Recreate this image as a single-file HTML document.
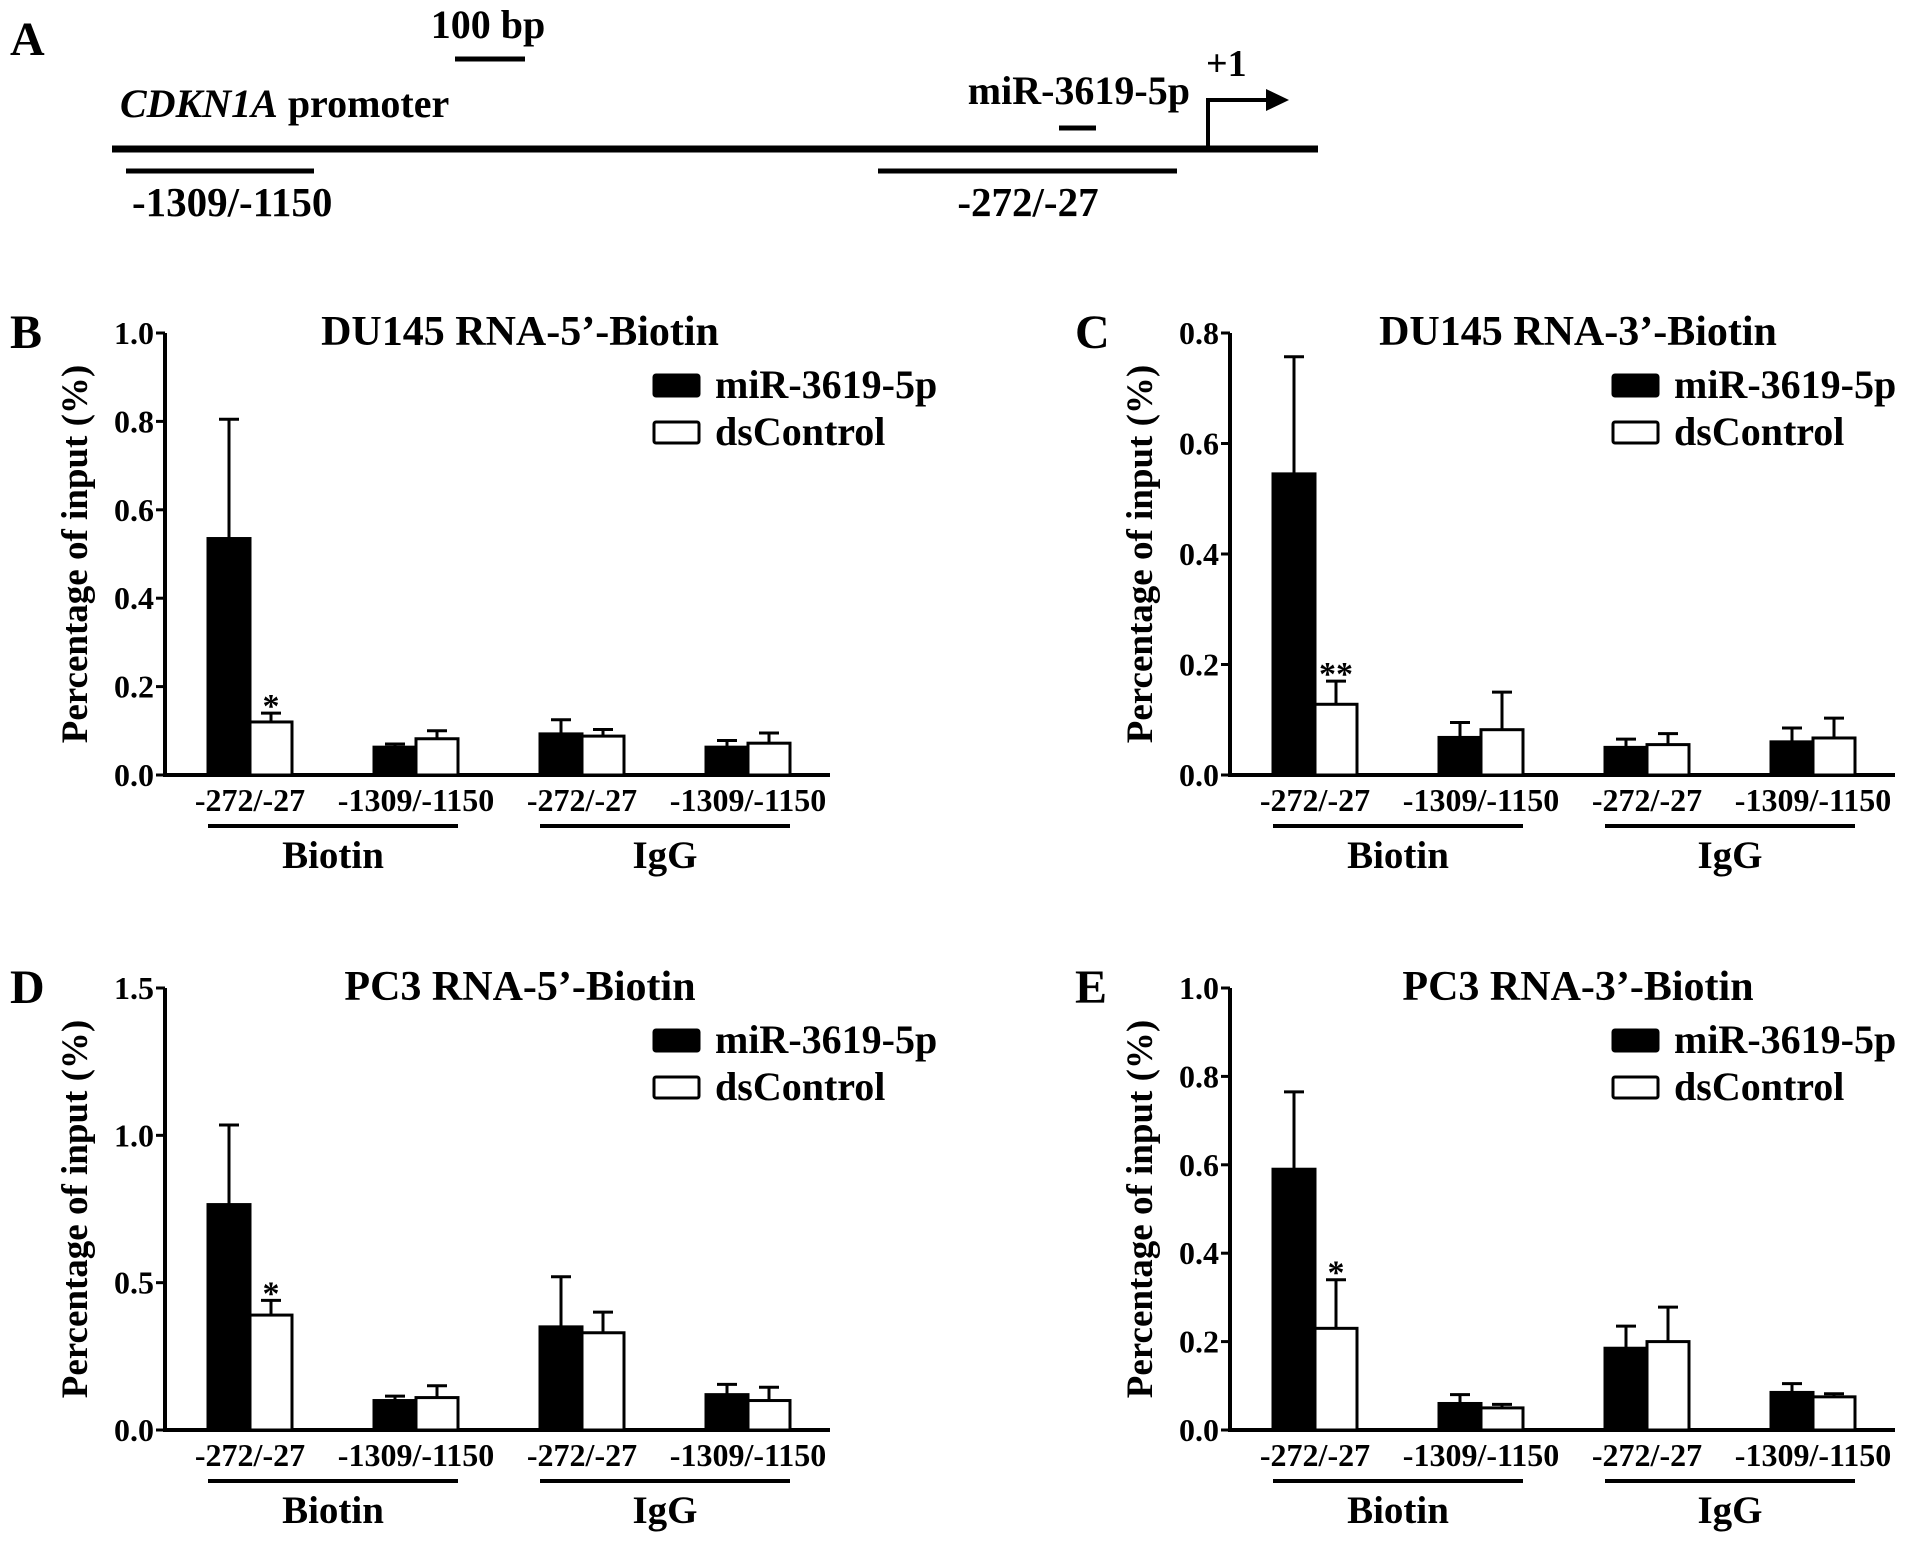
<!DOCTYPE html>
<html><head><meta charset="utf-8"><style>
html,body{margin:0;padding:0;background:#fff;}
svg{display:block;}
svg text{font-family:"Liberation Serif","DejaVu Serif",serif;font-weight:bold;}
</style></head><body>
<svg id="fig" width="1913" height="1546" viewBox="0 0 1913 1546" xmlns="http://www.w3.org/2000/svg" font-family="Liberation Serif, serif" font-weight="bold">
<g>
<text x="10" y="55" font-size="48">A</text>
<text x="488" y="38" font-size="40" text-anchor="middle">100 bp</text>
<line x1="455" y1="59" x2="525" y2="59" stroke="#000" stroke-width="5"/>
<text x="120" y="117" font-size="40"><tspan font-style="italic">CDKN1A</tspan> promoter</text>
<line x1="112" y1="149" x2="1318" y2="149" stroke="#000" stroke-width="7"/>
<text x="1190" y="104" font-size="40" text-anchor="end">miR-3619-5p</text>
<line x1="1059" y1="128" x2="1096" y2="128" stroke="#000" stroke-width="5"/>
<path d="M1208,149 V100 H1270" fill="none" stroke="#000" stroke-width="4"/>
<path d="M1266,89 L1289,100 L1266,111 Z" fill="#000"/>
<text x="1206" y="76" font-size="38">+1</text>
<line x1="126" y1="171" x2="314" y2="171" stroke="#000" stroke-width="5"/>
<line x1="878" y1="171" x2="1177" y2="171" stroke="#000" stroke-width="5"/>
<text x="132" y="216" font-size="41">-1309/-1150</text>
<text x="1028" y="216" font-size="41" text-anchor="middle">-272/-27</text>
</g>
</svg>
<script>
const categories = ["-272/-27","-1309/-1150","-272/-27","-1309/-1150"];
const groupLabels = ["Biotin","IgG"];
const seriesNames = ["miR-3619-5p","dsControl"];
const bMir = [0.535,0.063,0.093,0.063];
const bMirErr = [0.27,0.007,0.032,0.015];
const bCtl = [0.12,0.082,0.088,0.072];
const bCtlErr = [0.02,0.018,0.015,0.023];
const bTicks = [0,0.2,0.4,0.6,0.8,1.0];
const cMir = [0.545,0.068,0.05,0.06];
const cMirErr = [0.212,0.027,0.015,0.025];
const cCtl = [0.128,0.082,0.055,0.067];
const cCtlErr = [0.042,0.068,0.02,0.036];
const cTicks = [0,0.2,0.4,0.6,0.8];
const dMir = [0.765,0.10,0.35,0.12];
const dMirErr = [0.27,0.015,0.17,0.035];
const dCtl = [0.39,0.11,0.33,0.10];
const dCtlErr = [0.05,0.04,0.07,0.045];
const dTicks = [0,0.5,1.0,1.5];
const eMir = [0.59,0.06,0.185,0.085];
const eMirErr = [0.175,0.02,0.05,0.02];
const eCtl = [0.23,0.05,0.2,0.075];
const eCtlErr = [0.11,0.008,0.078,0.007];
const eTicks = [0,0.2,0.4,0.6,0.8,1.0];

const NS="http://www.w3.org/2000/svg";
const svg=document.getElementById('fig');
function mk(tag,attrs,parent){const e=document.createElementNS(NS,tag);for(const k in attrs)e.setAttribute(k,attrs[k]);(parent||svg).appendChild(e);return e;}
function txt(x,y,s,size,anchor,parent){const t=mk('text',{x:x,y:y,'font-size':size,'text-anchor':anchor||'start','font-family':'Liberation Serif, serif','font-weight':'bold'},parent);t.textContent=s;return t;}

function panel(cfg){
  const g=mk('g',{});
  
  
  const ax=cfg.ox, y0=cfg.oy, top=cfg.oy-442, xEnd=ax+665;
  const ymax=cfg.ticks[cfg.ticks.length-1];
  const Y=v=>y0-(v/ymax)*(y0-top);
  const X=i=>250+166*i+(ax-165);
  const L=txt(cfg.ox-155,top+15,cfg.letter,48,'start',g);
  
  
  const T=txt(cfg.tx,top+12,cfg.title,42,'middle',g);
  
  
  const yl=txt(0,0,'Percentage of input (%)',37,'middle',g);
  yl.setAttribute('transform','translate('+(ax-78)+','+((top+y0)/2)+') rotate(-90)');
  
  
  const axl=mk('path',{d:'M'+ax+','+top+' V'+y0+' H'+xEnd,fill:'none',stroke:'#000','stroke-width':4},g);
  
  
  cfg.ticks.forEach(t=>{
    const tk=mk('line',{x1:ax-9,x2:ax,y1:Y(t),y2:Y(t),stroke:'#000','stroke-width':3},g);
    
    
    const tl=txt(ax-11,Y(t)+11,t.toFixed(1),32,'end',g);
    
    
  });
  const bw=42;
  for(let i=0;i<4;i++){
    const cx=X(i);
    [[cfg.mir,cfg.mirErr,'#000',-1],[cfg.ctl,cfg.ctlErr,'#fff',0]].forEach(([vals,errs,fill,off],k)=>{
      const x=cx+off*bw, v=vals[i], e=errs[i];
      const el=mk('line',{x1:x+bw/2,x2:x+bw/2,y1:Y(v),y2:Y(v+e),stroke:'#000','stroke-width':3},g);
      
      
      const ec=mk('line',{x1:x+bw/2-10,x2:x+bw/2+10,y1:Y(v+e),y2:Y(v+e),stroke:'#000','stroke-width':3},g);
      
      
      const r=mk('rect',{x:x,y:Y(v),width:bw,height:y0-Y(v),fill:fill,stroke:'#000','stroke-width':3},g);
      
      
    });
    const cl=txt(cx,y0+36,categories[i],32,'middle',g);
    
    
  }
  const st=txt(X(0)+bw/2,Y(cfg.ctl[0]+cfg.ctlErr[0])+4,cfg.star,34,'middle',g);
  
  
  for(let j=0;j<2;j++){
    const a=X(2*j)-42,b=X(2*j+1)+42;
    const gl=mk('line',{x1:a,x2:b,y1:y0+51,y2:y0+51,stroke:'#000','stroke-width':4},g);
    
    
    const gt=txt((a+b)/2,y0+93,groupLabels[j],39,'middle',g);
    
    
  }
  const lx=cfg.lx, ly=top+42;
  [['#000',0],['#fff',1]].forEach(([f,k])=>{
    const lr=mk('rect',{x:lx,y:ly+k*47,width:45,height:21,fill:f,stroke:'#000','stroke-width':3,rx:2},g);
    
    
    const lt=txt(lx+61,ly+k*47+23,seriesNames[k],40,'start',g);
    
    
  });
}
panel({letter:'B',title:'DU145 RNA-5\u2019-Biotin',ox:165,oy:775,tx:520,lx:654,ticks:bTicks,mir:bMir,mirErr:bMirErr,ctl:bCtl,ctlErr:bCtlErr,star:'*'});
panel({letter:'C',title:'DU145 RNA-3\u2019-Biotin',ox:1230,oy:775,tx:1578,lx:1613,ticks:cTicks,mir:cMir,mirErr:cMirErr,ctl:cCtl,ctlErr:cCtlErr,star:'**'});
panel({letter:'D',title:'PC3 RNA-5\u2019-Biotin',ox:165,oy:1430,tx:520,lx:654,ticks:dTicks,mir:dMir,mirErr:dMirErr,ctl:dCtl,ctlErr:dCtlErr,star:'*'});
panel({letter:'E',title:'PC3 RNA-3\u2019-Biotin',ox:1230,oy:1430,tx:1578,lx:1613,ticks:eTicks,mir:eMir,mirErr:eMirErr,ctl:eCtl,ctlErr:eCtlErr,star:'*'});
</script>
</body></html>
